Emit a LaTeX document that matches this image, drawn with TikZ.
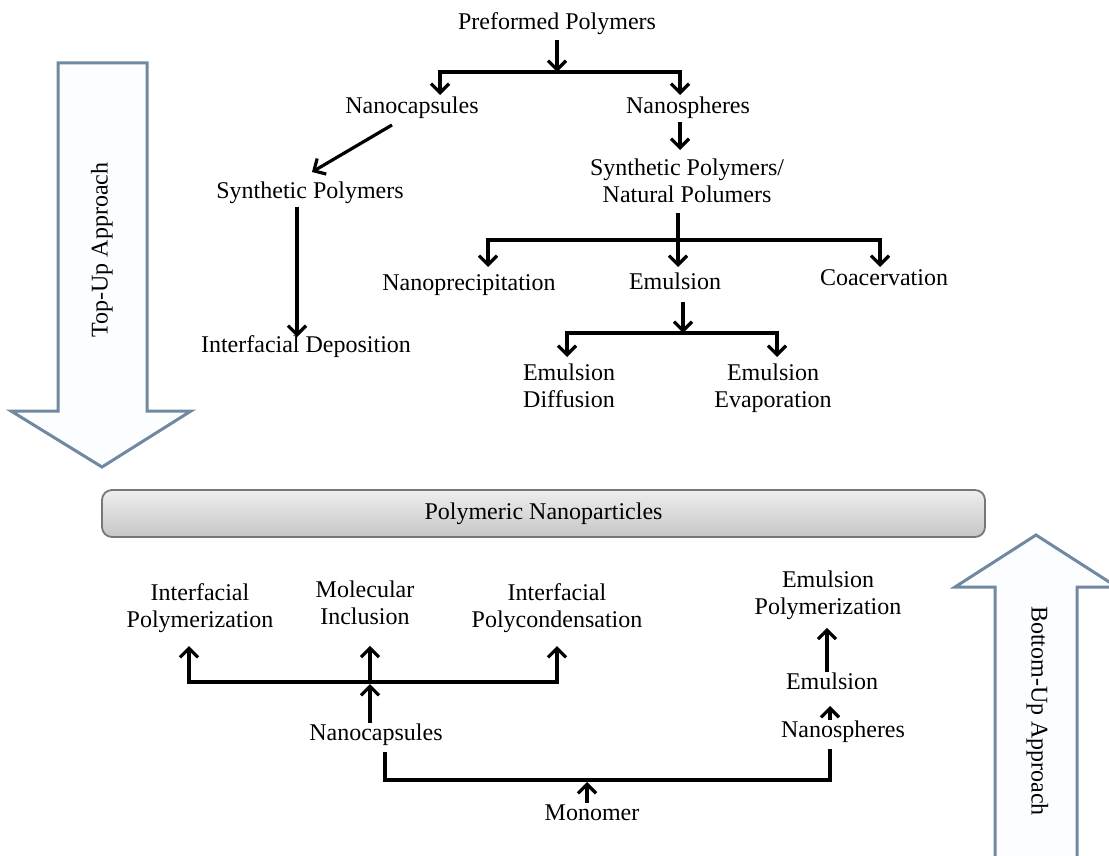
\documentclass[tikz,border=0pt]{standalone}
\usepackage{fontspec}
\setmainfont{Liberation Serif}
\usetikzlibrary{arrows.meta,calc}
\newcommand{\lblfont}{\fontsize{24}{27}\selectfont}
\definecolor{bigedge}{HTML}{7088A0}
\definecolor{bigfill}{HTML}{FBFDFE}
\definecolor{barTop}{HTML}{EEEEEE}
\definecolor{barBot}{HTML}{C6C6C6}
\definecolor{barEdge}{HTML}{777777}
\begin{document}
\begin{tikzpicture}[x=1pt,y=-1pt,
  lbl/.style={font=\lblfont, inner sep=0pt, outer sep=0pt, text height=16pt, text depth=5pt},
  lbltwo/.style={font=\lblfont, inner sep=0pt, outer sep=0pt, align=center, anchor=north},
  arr/.style={line width=3.2pt, -{Straight Barb[length=9pt,width=18pt]}},
  ln/.style={line width=3.2pt},
  bigarrow/.style={draw=bigedge, fill=bigfill, line width=3pt, line join=miter},
  barbox/.style={draw=barEdge, line width=1.8pt, rounded corners=10pt, top color=barTop, bottom color=barBot, minimum width=883pt, minimum height=47pt, inner sep=0pt, font=\lblfont}
]
\useasboundingbox (0,0) rectangle (1109,856);

% big approach arrows
\begin{scope}
\clip (0,0) rectangle (1109,856);
\draw[bigarrow] (58,63) -- (147,63) -- (147,411) -- (191,411) -- (102,467) -- (11,411) -- (58,411) -- cycle;
\draw[bigarrow] (995,880) -- (995,587) -- (955,587) -- (1036,535) -- (1117,587) -- (1077,587) -- (1077,880) -- cycle;
\end{scope}
\node[lbl, rotate=90] (tu) at (102,250) {Top-Up Approach};
\node[lbl, rotate=-90] (bu) at (1037,711) {Bottom-Up Approach};

% top tree
\node[lbl] (pp) at (557,24.5) {Preformed Polymers};
\node[lbl] (nc1) at (412,108.5) {Nanocapsules};
\node[lbl] (ns1) at (688,108.5) {Nanospheres};
\node[lbltwo] (sn) at (687,159) {Synthetic Polymers/\\Natural Polumers};
\node[lbl] (sp1) at (310,193.5) {Synthetic Polymers};
\node[lbl] (id) at (306,346.5) {Interfacial Deposition};
\node[lbl] (np) at (469,284.5) {Nanoprecipitation};
\node[lbl] (em) at (675,283.5) {Emulsion};
\node[lbl] (co) at (884,279.5) {Coacervation};
\node[lbltwo] (ed) at (569,364) {Emulsion\\Diffusion};
\node[lbltwo] (ee) at (773,364) {Emulsion\\Evaporation};

\coordinate (j1) at (557,72);
\coordinate (jL) at (440,72);
\coordinate (jR) at (680,72);
\draw[arr] ($(pp.south)+(0,5)$) -- (j1);
\draw[arr] (j1) -- (jL) -- ($(jL |- nc1.north)+(0,-3)$);
\draw[arr] (j1) -- (jR) -- ($(jR |- ns1.north)+(0,-3)$);
\draw[arr] ($(ns1.south -| jR)+(0,3)$) -- ($(sn.north -| jR)+(0,-9)$);
\draw[arr] ($(nc1.south)+(-20,6)$) -- ($(sp1.north)+(2,-11)$);
\draw[arr] ($(sp1.south)+(-13,3)$) -- ($(id.north)+(-9,1)$);

\coordinate (k) at (678,240);
\coordinate (kL) at (488,240);
\coordinate (kR) at (880,240);
\draw[arr] ($(sn.south -| k)+(0,10)$) -- ($(k |- em.north)+(0,-6)$);
\draw[arr] (k) -- (kL) -- ($(kL |- np.north)+(0,-7)$);
\draw[arr] (k) -- (kR) -- ($(kR |- co.north)+(0,-2)$);

\coordinate (m) at (683,333);
\coordinate (mL) at (567,333);
\coordinate (mR) at (777,333);
\draw[arr] ($(em.south)+(8,8)$) -- (m);
\draw[arr] (m) -- (mL) -- ($(mL |- ed.north)+(0,-7)$);
\draw[arr] (m) -- (mR) -- ($(mR |- ee.north)+(0,-7)$);

% central bar
\node[barbox] (pn) at (543.5,513.5) {Polymeric Nanoparticles};

% bottom tree
\node[lbltwo] (ip) at (200,584) {Interfacial\\Polymerization};
\node[lbltwo] (mi) at (365,581) {Molecular\\Inclusion};
\node[lbltwo] (ipc) at (557,584) {Interfacial\\Polycondensation};
\node[lbltwo] (ep) at (828,571) {Emulsion\\Polymerization};
\node[lbl] (nc2) at (376,734.5) {Nanocapsules};
\node[lbl] (em2) at (832,683.5) {Emulsion};
\node[lbl] (ns2) at (843,731.5) {Nanospheres};
\node[lbl] (mo) at (592,814.5) {Monomer};

\coordinate (h) at (370,682);
\coordinate (hL) at (189,682);
\coordinate (hR) at (557,682);
\draw[arr] (h) -- (hL) -- ($(hL |- ip.south)+(0,13)$);
\draw[arr] (h) -- (hR) -- ($(hR |- ipc.south)+(0,13)$);
\draw[arr] (h) -- ($(h |- mi.south)+(0,21)$);
\draw[arr] ($(nc2.north -| h)+(0,-1)$) -- ($(h)+(0,2)$);

\coordinate (bL) at (385,780);
\coordinate (bR) at (830,780);
\coordinate (b) at (587,780);
\draw[ln] ($(bL |- nc2.south)+(0,7)$) -- (bL) -- (bR) -- ($(bR |- ns2.south)+(0,7)$);
\draw[arr] ($(mo.north -| b)+(0,-1)$) -- ($(b)+(0,2)$);
\draw[arr] ($(ns2.north -| bR)+(0,-1)$) -- ($(em2.south -| bR)+(0,12)$);
\draw[arr] ($(em2.north)+(-5,-1)$) -- ($(ep.south)+(-1,8)$);
\end{tikzpicture}
\end{document}
